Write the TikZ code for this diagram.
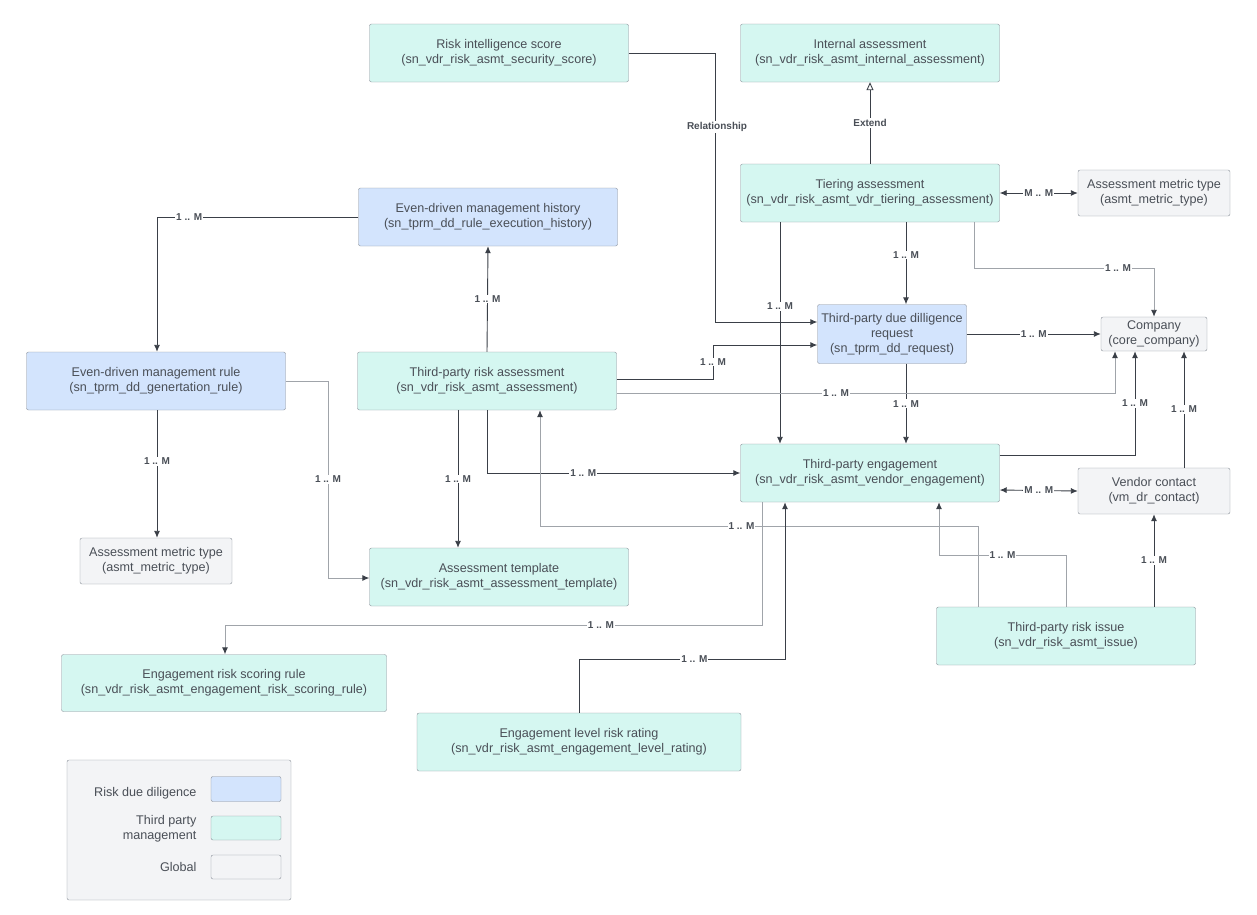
\documentclass[tikz,border=0pt]{standalone}
\usepackage{fontspec}
\setmainfont{Liberation Sans}
\usetikzlibrary{arrows.meta}
\definecolor{rdd}{HTML}{D3E4FD}
\definecolor{tpm}{HTML}{D5F7F1}
\definecolor{glob}{HTML}{F3F4F6}
\definecolor{edgec}{HTML}{8A9099}
\definecolor{txt}{HTML}{4A4F57}
\definecolor{linec}{HTML}{3A3F47}
\definecolor{lightc}{HTML}{A0A4AA}
\tikzset{
  box/.style={draw=edgec, rounded corners=2pt, align=center, text=txt, font=\fontsize{12.6}{15}\selectfont, inner sep=2pt},
  rdd/.style={box, fill=rdd},
  tpm/.style={box, fill=tpm},
  glob/.style={box, fill=glob},
  arr/.style={draw=linec, line width=0.9pt, -{Latex[length=7pt,width=6pt]}},
  dbl/.style={arr, {Latex[length=7pt,width=6pt]}-{Latex[length=7pt,width=6pt]}},
  lite/.style={draw=lightc, -{Latex[length=7pt,width=6pt,color=linec]}},
  lab/.style={fill=white, text=txt, font=\bfseries\fontsize{10}{12}\selectfont, inner sep=1pt},
}
\begin{document}
\begin{tikzpicture}[x=1pt, y=-1pt]
    \useasboundingbox (0,0) rectangle (1257,914);
    % entities
    \node[tpm, minimum width=259, minimum height=58]  (ris) at (499,53)  {Risk intelligence score\\(sn\_vdr\_risk\_asmt\_security\_score)};
    \node[tpm, minimum width=259, minimum height=58]  (ia)  at (870,53)  {Internal assessment\\(sn\_vdr\_risk\_asmt\_internal\_assessment)};
    \node[tpm, minimum width=259, minimum height=58]  (ta)  at (870,193) {Tiering assessment\\(sn\_vdr\_risk\_asmt\_vdr\_tiering\_assessment)};
    \node[glob, minimum width=152, minimum height=46] (amt) at (1154,193) {Assessment metric type\\(asmt\_metric\_type)};
    \node[rdd, minimum width=259, minimum height=58]  (eh)  at (488,217) {Even-driven management history\\(sn\_tprm\_dd\_rule\_execution\_history)};
    \node[rdd, minimum width=149, minimum height=59]  (dd)  at (892,334) {Third-party due dilligence\\request\\(sn\_tprm\_dd\_request)};
    \node[glob, minimum width=106, minimum height=34] (co)  at (1154,334) {Company\\(core\_company)};
    \node[rdd, minimum width=259, minimum height=58]  (er)  at (156,381) {Even-driven management rule\\(sn\_tprm\_dd\_genertation\_rule)};
    \node[tpm, minimum width=259, minimum height=58]  (ra)  at (487,381) {Third-party risk assessment\\(sn\_vdr\_risk\_asmt\_assessment)};
    \node[tpm, minimum width=259, minimum height=58]  (te)  at (870,473) {Third-party engagement\\(sn\_vdr\_risk\_asmt\_vendor\_engagement)};
    \node[glob, minimum width=152, minimum height=46] (vc)  at (1154,491) {Vendor contact\\(vm\_dr\_contact)};
    \node[glob, minimum width=152, minimum height=46] (amt2) at (156,561) {Assessment metric type\\(asmt\_metric\_type)};
    \node[tpm, minimum width=259, minimum height=58]  (at)  at (499,577) {Assessment template\\(sn\_vdr\_risk\_asmt\_assessment\_template)};
    \node[tpm, minimum width=259, minimum height=58]  (ti)  at (1066,636) {Third-party risk issue\\(sn\_vdr\_risk\_asmt\_issue)};
    \node[tpm, minimum width=325, minimum height=57]  (es)  at (224,683) {Engagement risk scoring rule\\(sn\_vdr\_risk\_asmt\_engagement\_risk\_scoring\_rule)};
    \node[tpm, minimum width=324, minimum height=58]  (el)  at (579,742) {Engagement level risk rating\\(sn\_vdr\_risk\_asmt\_engagement\_level\_rating)};
    % relations
    \draw[arr] (ris.east) -| (715,322) -- ([yshift=12pt]dd.west);
    \node[lab] at (717,127) {Relationship};
    \draw[linec, line width=0.9pt, -{Triangle[open,length=8pt,width=7pt]}] (ta.north) -- node[lab]{Extend} (ia.south);
    \draw[dbl] (ta.east) -- node[lab]{M .. M} (amt.west);
    \draw[arr] ([xshift=-90pt]ta.south) -- node[lab, pos=.38]{1 .. M} ([xshift=-90pt]te.north);
    \draw[arr] ([xshift=36pt]ta.south) -- node[lab, pos=.4]{1 .. M} ([xshift=14pt]dd.north);
    \draw[arr, lite] ([xshift=104pt]ta.south) |- (1154,268) node[lab, pos=.9]{1 .. M} -- (co.north);
    \draw[arr] (dd.east) -- node[lab]{1 .. M} (co.west);
    \draw[arr] ([xshift=14pt]dd.south) -- node[lab]{1 .. M} ([xshift=36pt]te.north);
    \draw[arr] ([yshift=2pt]ra.east) -| (713,345) node[lab, pos=.75]{1 .. M} -- ([yshift=-11pt]dd.west);
    \draw[arr, lite] ([yshift=-12pt]ra.east) -| node[lab, pos=.22]{1 .. M} ([xshift=-39pt]co.south);
    \draw[arr] ([yshift=18pt]te.east) -| node[lab, pos=.75]{1 .. M} ([xshift=-19pt]co.south);
    \draw[arr] ([xshift=30pt]vc.north) -- node[lab, pos=.5]{1 .. M} ([xshift=30pt]co.south);
    \draw[dbl] ([yshift=-17pt]te.east) -- node[lab]{M .. M} (vc.west);
    \draw[arr] (ti.north -| vc.south) -- node[lab]{1 .. M} (vc.south);
    \draw[arr] (ra.north) -- node[lab]{1 .. M} (eh.south);
    \draw[arr] (eh.west) -| node[lab, pos=.42]{1 .. M} ([xshift=1pt]er.north);
    \draw[arr] ([xshift=1pt]er.south) -- node[lab, pos=.4]{1 .. M} ([xshift=1pt]amt2.north);
    \draw[arr, lite] (er.east) -| (328,578) node[lab, pos=.75]{1 .. M} -- ([yshift=-1pt]at.west);
    \draw[arr] ([xshift=-29pt]ra.south) -- node[lab]{1 .. M} ([xshift=-41pt]at.north);
    \draw[arr] (ra.south) |- node[lab, pos=.69]{1 .. M} (te.west);
    \draw[arr, lite] ([xshift=-88pt]ti.north) |- (540,526) node[lab, pos=.77]{1 .. M} -- ([xshift=53pt]ra.south);
    \draw[arr, lite] (ti.north) |- (939,555) node[lab, pos=.75]{1 .. M} -- ([xshift=69pt]te.south);
    \draw[arr, lite] ([xshift=-108pt]te.south) |- (225,625) node[lab, pos=.65]{1 .. M} -- ([xshift=1pt]es.north);
    \draw[arr] (el.north) |- (785,659) node[lab, pos=.78]{1 .. M} -- ([xshift=-85pt]te.south);
    % legend
    \node[draw=edgec, fill=glob, rounded corners=2pt, minimum width=224, minimum height=140] (leg) at (179,830) {};
    \node[box, rdd, minimum width=70, minimum height=25]  (kr) at (246,789) {};
    \node[box, tpm, minimum width=70, minimum height=24]  (kt) at (246,828) {};
    \node[box, glob, minimum width=70, minimum height=24] (kg) at (246,867) {};
    \node[text=txt, align=right, anchor=east, font=\fontsize{12.6}{15}\selectfont] at (200,793) {Risk due diligence};
    \node[text=txt, align=right, anchor=east, font=\fontsize{12.6}{15}\selectfont] at (200,829) {Third party\\management};
    \node[text=txt, align=right, anchor=east, font=\fontsize{12.6}{15}\selectfont] at (200,867) {Global};
\end{tikzpicture}
\end{document}
